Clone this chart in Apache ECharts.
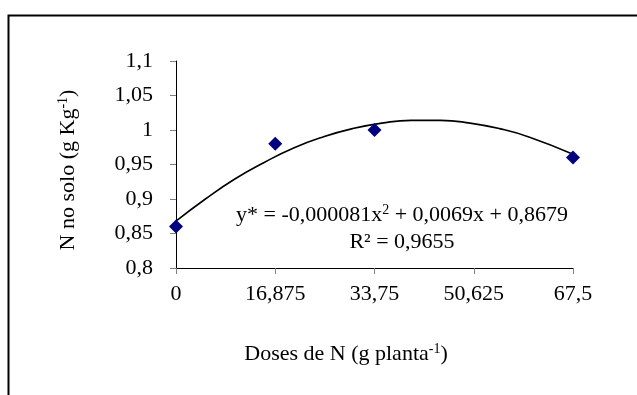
<!DOCTYPE html>
<html><head><meta charset="utf-8">
<script src="https://cdn.jsdelivr.net/npm/echarts@6/dist/echarts.min.js"></script>
<style>html,body{margin:0;padding:0;background:#fff}#c{width:637px;height:395px}</style>
</head><body><div id="c"></div>
<script>
// observed data
const doses = [0, 16.875, 33.75, 67.5];
const nSolo = [0.86, 0.98, 1.0, 0.96];
// trend curve
const trendX = [0, 5, 10, 15, 20, 25, 30, 35, 40, 45, 50, 55, 60, 67.5];
const trendY = [0.868, 0.900, 0.929, 0.953, 0.974, 0.990, 1.002, 1.010, 1.014, 1.014, 1.010, 1.002, 0.990, 0.965];
const xTickLabels = ['0', '16,875', '33,75', '50,625', '67,5'];
const yTickLabels = ['0,8', '0,85', '0,9', '0,95', '1', '1,05', '1,1'];

const FONT = '"Liberation Serif", "Times New Roman", serif';
const FS = 22;
const SUP = 14;
const chart = echarts.init(document.getElementById('c'), null, {renderer: 'canvas'});
const fmt = v => String(+v.toFixed(4)).replace('.', ',');
const richBase = {
  a: {fontFamily: FONT, fontSize: FS, fill: '#000', lineHeight: 23},
  s: {fontFamily: FONT, fontSize: SUP, fill: '#000', verticalAlign: 'top', lineHeight: 23}
};

chart.setOption({
  animation: false,
  backgroundColor: '#fff',
  grid: {left: 176, right: 64, top: 61, bottom: 127, containLabel: false},
  xAxis: {
    type: 'value', min: 0, max: 67.5, interval: 16.875,
    axisLine: {show: true, lineStyle: {color: '#000', width: 1}},
    axisTick: {show: true, length: 6, lineStyle: {color: '#808080'}},
    splitLine: {show: false},
    axisLabel: {color: '#000', fontFamily: FONT, fontSize: FS, margin: 15,
      formatter: v => { const i = xTickLabels.indexOf(fmt(v)); return i >= 0 ? xTickLabels[i] : fmt(v); }}
  },
  yAxis: {
    type: 'value', min: 0.8, max: 1.1, interval: 0.05,
    axisLine: {show: true, lineStyle: {color: '#000', width: 1}},
    axisTick: {show: true, length: 6, lineStyle: {color: '#808080'}},
    splitLine: {show: false},
    axisLabel: {color: '#000', fontFamily: FONT, fontSize: FS, margin: 23,
      formatter: v => { const i = yTickLabels.indexOf(fmt(v)); return i >= 0 ? yTickLabels[i] : fmt(v); }}
  },
  series: [
    {
      type: 'line', data: trendX.map((x, i) => [x, trendY[i]]), smooth: true,
      showSymbol: false, symbol: 'none', z: 2,
      lineStyle: {color: '#000', width: 1.6}
    },
    {
      type: 'scatter', data: doses.map((x, i) => [x, nSolo[i]]),
      symbol: 'diamond', symbolSize: 14, z: 3,
      itemStyle: {color: '#000080', opacity: 1}
    }
  ],
  graphic: [
    {type: 'polyline', shape: {points: [[8.5, 400], [8.5, 15.5], [640, 15.5]]},
     style: {stroke: '#000', lineWidth: 2, fill: null}, silent: true},
    {type: 'text', x: 402, y: 215,
     style: {text: '{a|y* = -0,000081x}{s|2}{a| + 0,0069x + 0,8679}',
       align: 'center', verticalAlign: 'middle', rich: richBase}},
    {type: 'text', x: 402, y: 242,
     style: {text: 'R² = 0,9655', align: 'center', verticalAlign: 'middle',
       fontFamily: FONT, fontSize: FS, fill: '#000'}},
    {type: 'text', x: 346, y: 354,
     style: {text: '{a|Doses de N (g planta}{s|-1}{a|)}', align: 'center', verticalAlign: 'middle',
       rich: richBase}},
    {type: 'text', x: 68, y: 170, rotation: Math.PI / 2,
     style: {text: '{a|N no solo (g Kg}{s|-1}{a|)}', align: 'center', verticalAlign: 'middle',
       rich: richBase}}
  ]
});
</script>
</body></html>
